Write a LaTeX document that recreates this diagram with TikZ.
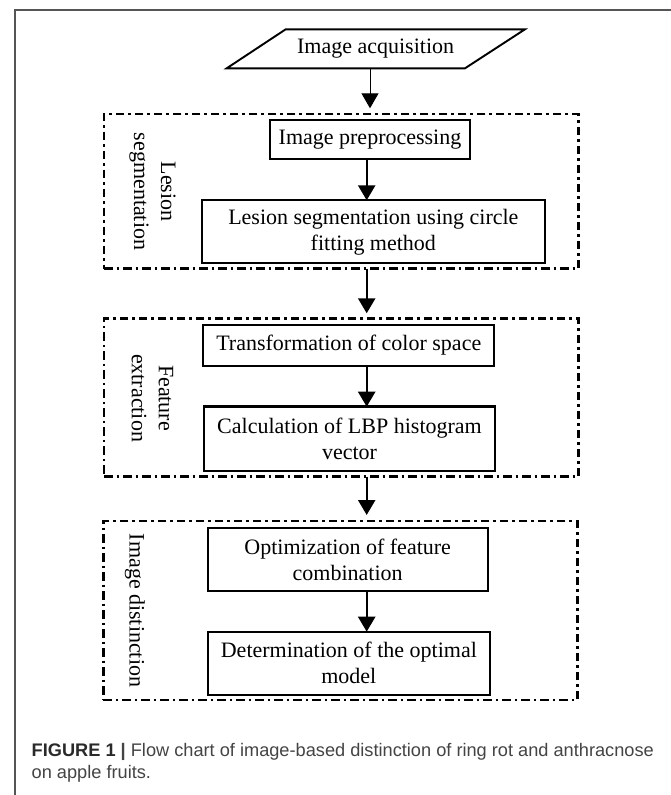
\documentclass[tikz,border=0pt]{standalone}
\usepackage{fontspec}
\setmainfont{Liberation Serif}
\newfontfamily\capfont{Liberation Sans}
\usetikzlibrary{arrows.meta,calc}
\definecolor{framegray}{HTML}{555555}
\definecolor{capgray}{HTML}{444444}
\definecolor{capdark}{HTML}{2A2A2A}
\begin{document}
\begin{tikzpicture}[x=1pt,y=-1pt,
  every node/.style={inner sep=0pt, outer sep=0pt},
  proc/.style={draw, line width=1.9pt, font=\fontsize{22}{26}\selectfont, align=center},
  grp/.style={draw, line width=2.6pt, dash pattern=on 8.5pt off 4pt on 2.5pt off 4pt},
  glabel/.style={font=\fontsize{22}{27}\selectfont, align=center, rotate=-90},
  arr/.style={line width=2.4pt, -{Triangle[length=15pt,width=17pt]}},
  thinarr/.style={line width=1pt, -{Triangle[length=15pt,width=17pt]}},
  captext/.style={anchor=base west, font=\capfont\fontsize{18.2}{21.6}\selectfont, text=capgray},
]
\useasboundingbox (0,0) rectangle (671,795);
\fill[white] (0,0) rectangle (671,795);
% outer frame
\draw[framegray, line width=1.5pt] (15,800) -- (15,10) -- (676,10);

% parallelogram input
\coordinate (pBL) at (226.7,68.3);
\coordinate (pTL) at (285.7,29.3);
\coordinate (pTR) at (525,29.3);
\coordinate (pBR) at (465,68.3);
\draw[line width=1.9pt, line join=miter] (pBL) -- (pTL) -- (pTR) -- (pBR) -- cycle;
\node[font=\fontsize{22}{26}\selectfont, minimum height=39pt] (acq) at (375.6,48.8) {Image acquisition};

\coordinate (a0) at (370,0);
\coordinate (ax) at (366.7,0);

% group 1
\node[grp, minimum width=474.3pt, minimum height=154.7pt] (g1) at (341.15,191.35) {};
\node[proc, minimum width=200pt, minimum height=39.3pt] (pre) at (370,139.65) {Image preprocessing};
\node[proc, minimum width=343.3pt, minimum height=63pt] (seg) at (373.35,231.8) {Lesion segmentation using circle\\fitting method};
\node[glabel] (l1) at (152.5,191.5) {Lesion\\segmentation};

% group 2
\node[grp, minimum width=474.3pt, minimum height=158.4pt] (g2) at (341.15,397.5) {};
\node[proc, minimum width=291pt, minimum height=40.7pt] (trans) at (348.8,345.35) {Transformation of color space};
\node[proc, line width=2.8pt, minimum width=291pt, minimum height=64.3pt] (calc) at (349.5,438.85) {Calculation of LBP histogram\\vector};
\node[glabel] (l2) at (152.5,398) {Feature\\extraction};

% group 3
\node[grp, minimum width=474pt, minimum height=179pt] (g3) at (340.3,610.5) {};
\node[proc, minimum width=280pt, minimum height=62.4pt] (opt) at (347.7,559.5) {Optimization of feature\\combination};
\node[proc, minimum width=282.3pt, minimum height=63.3pt] (det) at (348.85,663.35) {Determination of the optimal\\model};
\node[glabel] (l3) at (135,610.5) {Image distinction};

% connectors
\draw[thinarr] (acq.south -| a0) -- ([yshift=5.7pt]g1.north -| a0);
\draw[arr] (pre.south -| ax) -- (seg.north -| ax);
\draw[arr] (g1.south -| ax) -- ([yshift=5pt]g2.north -| ax);
\draw[arr] (trans.south -| ax) -- (calc.north -| ax);
\draw[arr] (g2.south -| ax) -- ([yshift=6pt]g3.north -| ax);
\draw[arr] (opt.south -| ax) -- (det.north -| ax);

% caption
\node[captext] (cap1) at (31.7,756.7) {{\bfseries\color{capdark}FIGURE 1} {\bfseries |} Flow chart of image-based distinction of ring rot and anthracnose};
\node[captext] (cap2) at (31.7,778.3) {on apple fruits.};
\end{tikzpicture}
\end{document}
